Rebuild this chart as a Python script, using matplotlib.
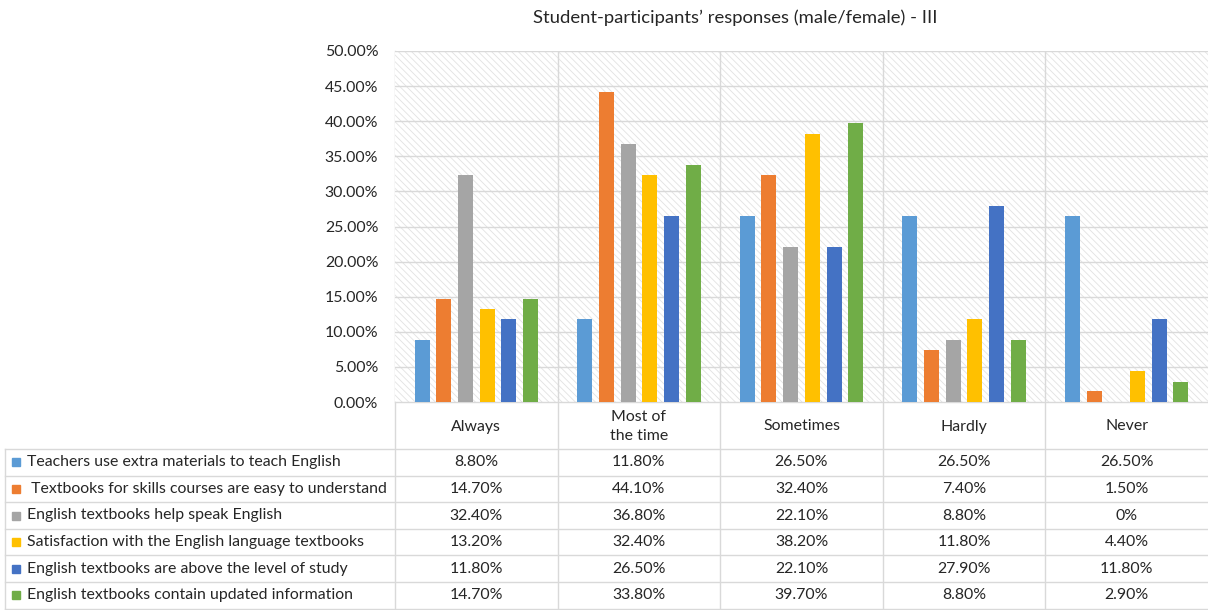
import matplotlib
matplotlib.use('Agg')
import matplotlib.pyplot as plt
from matplotlib.patches import Rectangle

categories = ['Always', 'Most of\nthe time', 'Sometimes', 'Hardly', 'Never']
series_names = [
	'Teachers use extra materials to teach English',
	' Textbooks for skills courses are easy to understand',
	'English textbooks help speak English',
	'Satisfaction with the English language textbooks',
	'English textbooks are above the level of study',
	'English textbooks contain updated information',
]
teachers_extra = [8.8, 11.8, 26.5, 26.5, 26.5]
skills_easy = [14.7, 44.1, 32.4, 7.4, 1.5]
help_speak = [32.4, 36.8, 22.1, 8.8, 0.0]
satisfaction = [13.2, 32.4, 38.2, 11.8, 4.4]
above_level = [11.8, 26.5, 22.1, 27.9, 11.8]
updated_info = [14.7, 33.8, 39.7, 8.8, 2.9]
series = [teachers_extra, skills_easy, help_speak, satisfaction, above_level, updated_info]
colors = ['#5B9BD5', '#ED7D31', '#A5A5A5', '#FFC000', '#4472C4', '#70AD47']
yticks = [0, 5, 10, 15, 20, 25, 30, 35, 40, 45, 50]

W, H = 1208, 610
FONT = 'Lato'
GRID = '#d9d9d9'
TXT = '#262626'
FS = 11.4

plt.rcParams['font.family'] = [FONT, 'DejaVu Sans']
plt.rcParams['hatch.linewidth'] = 0.6


def fmt(v):
	if v == 0:
		return '0%'
	return f'{v:.2f}%'


def main():
	fig = plt.figure(figsize=(W / 100, H / 100), dpi=100)
	left, right, top, bottom = 395, 1208, 51, 402
	ax = fig.add_axes([left / W, 1 - bottom / H, (right - left) / W, (bottom - top) / H])
	ax.set_xlim(0, len(categories))
	ax.set_ylim(0, 50)

	# hatched plot background
	ax.add_patch(Rectangle((0, 0), 1, 1, transform=ax.transAxes, facecolor='white',
		edgecolor='#e2e2e2', hatch='\\' * 5, linewidth=0, zorder=0))

	for y in yticks:
		ax.axhline(y, color=GRID, lw=1, zorder=1)
	for i in range(1, len(categories)):
		ax.axvline(i, color=GRID, lw=1, zorder=1)

	slot = 0.1335
	bw = 0.092
	for j, vals in enumerate(series):
		xs = [i + 0.5 + (j - 2.5) * slot for i in range(len(categories))]
		ax.bar(xs, vals, width=bw, color=colors[j], zorder=2)

	ax.set_yticks(yticks)
	ax.set_yticklabels([f'{y:.2f}%' for y in yticks], fontsize=FS, color=TXT)
	ax.set_xticks([])
	ax.tick_params(axis='y', length=0, pad=12)
	for s in ax.spines.values():
		s.set_visible(False)

	# data table drawn in pixel space
	tb = fig.add_axes([0, 0, 1, 1], zorder=-1)
	tb.set_xlim(0, W)
	tb.set_ylim(H, 0)
	tb.axis('off')
	cw = (right - left) / len(categories)
	row0 = 449
	rh = 26.6
	nrows = len(series)
	tb_bottom = row0 + rh * nrows
	for k in range(nrows + 1):
		y = row0 + k * rh
		tb.plot([5, right], [y, y], color=GRID, lw=1)
	tb.plot([left, right], [bottom, bottom], color=GRID, lw=1)
	tb.plot([5, 5], [row0, tb_bottom], color=GRID, lw=1)
	tb.plot([left, left], [top, tb_bottom], color=GRID, lw=1)
	for i in range(1, len(categories)):
		x = left + i * cw
		tb.plot([x, x], [bottom, tb_bottom], color=GRID, lw=1)

	for i, cat in enumerate(categories):
		tb.text(left + (i + 0.5) * cw, (bottom + row0) / 2 + 1, cat, ha='center', va='center',
			fontsize=FS, color=TXT, linespacing=1.45)
	for j, vals in enumerate(series):
		yc = row0 + (j + 0.5) * rh
		tb.add_patch(Rectangle((12, yc - 4), 8, 8, color=colors[j]))
		tb.text(27, yc, series_names[j], ha='left', va='center', fontsize=FS, color=TXT)
		for i, v in enumerate(vals):
			tb.text(left + (i + 0.5) * cw, yc, fmt(v), ha='center', va='center',
				fontsize=FS, color=TXT)

	fig.text(735 / W, 1 - 18 / H, 'Student-participants’ responses (male/female) - III',
		ha='center', va='center', fontsize=13.3, color=TXT)

	fig.savefig('out.png', dpi=100, facecolor='white')


if __name__ == '__main__':
	main()
